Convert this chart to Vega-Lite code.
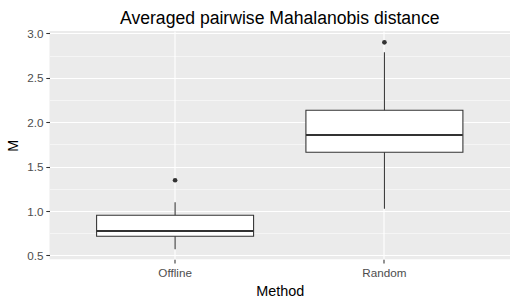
{
  "$schema": "https://vega.github.io/schema/vega-lite/v6.json",
  "autosize": "none",
  "width": 460.5,
  "height": 228.3,
  "padding": {"left": 49.5, "top": 31, "right": 8, "bottom": 46.7},
  "background": "white",
  "title": {
    "text": "Averaged pairwise Mahalanobis distance",
    "fontSize": 17.6,
    "fontWeight": "normal",
    "color": "black",
    "font": "Liberation Sans",
    "anchor": "middle",
    "baseline": "bottom",
    "offset": -17
  },
  "datasets": {
    "boxes": [
      {"Method": "Offline", "lower": 0.57, "q1": 0.716, "median": 0.776, "q3": 0.953, "upper": 1.099},
      {"Method": "Random", "lower": 1.027, "q1": 1.662, "median": 1.857, "q3": 2.135, "upper": 2.788}
    ],
    "outliers": [
      {"Method": "Offline", "M": 1.347},
      {"Method": "Random", "M": 2.9}
    ]
  },
  "config": {
    "font": "Liberation Sans",
    "view": {"fill": "#EBEBEB", "stroke": null},
    "axis": {
      "domain": false,
      "labelColor": "#4D4D4D",
      "labelFont": "Liberation Sans",
      "labelFontSize": 11.7,
      "tickColor": "#333333",
      "tickWidth": 1.07,
      "tickSize": 3.7,
      "gridColor": "white",
      "gridWidth": 1.07,
      "gridOpacity": 1,
      "titleFont": "Liberation Sans",
      "titleFontSize": 14.4,
      "titleFontWeight": "normal",
      "titleColor": "black"
    }
  },
  "encoding": {
    "x": {
      "field": "Method",
      "type": "nominal",
      "scale": {"paddingInner": 0.25, "paddingOuter": 0.225},
      "axis": {
        "title": "Method",
        "labelAngle": 0,
        "bandPosition": 0.5,
        "grid": true,
        "labelPadding": 4.5,
        "titlePadding": 5
      }
    }
  },
  "layer": [
    {
      "data": {"name": "boxes"},
      "mark": {"type": "rule", "color": "#333333", "strokeWidth": 1.07},
      "encoding": {
        "y": {
          "field": "lower",
          "type": "quantitative",
          "scale": {"domain": [0.457, 3.028], "nice": false, "zero": false},
          "axis": {
            "orient": "left",
            "values": [0.75, 1.25, 1.75, 2.25, 2.75],
            "grid": true,
            "gridWidth": 0.53,
            "labels": false,
            "ticks": false,
            "title": null
          }
        },
        "y2": {"field": "upper"}
      }
    },
    {
      "data": {"name": "boxes"},
      "mark": {"type": "bar", "fill": "white", "stroke": "#333333", "strokeWidth": 1.07},
      "encoding": {
        "y": {
          "field": "q1",
          "type": "quantitative",
          "axis": {
            "orient": "left",
            "title": "M",
            "values": [0.5, 1, 1.5, 2, 2.5, 3],
            "format": ".1f",
            "grid": true,
            "labelPadding": 2.9,
            "titlePadding": 6
          }
        },
        "y2": {"field": "q3"}
      }
    },
    {
      "data": {"name": "boxes"},
      "mark": {"type": "tick", "color": "#333333", "thickness": 2.13, "size": 156.8, "opacity": 1},
      "encoding": {
        "y": {"field": "median", "type": "quantitative", "axis": null}
      }
    },
    {
      "data": {"name": "outliers"},
      "mark": {"type": "circle", "color": "#333333", "size": 22, "opacity": 1},
      "encoding": {
        "y": {"field": "M", "type": "quantitative", "axis": null}
      }
    }
  ],
  "resolve": {"axis": {"y": "independent"}}
}
